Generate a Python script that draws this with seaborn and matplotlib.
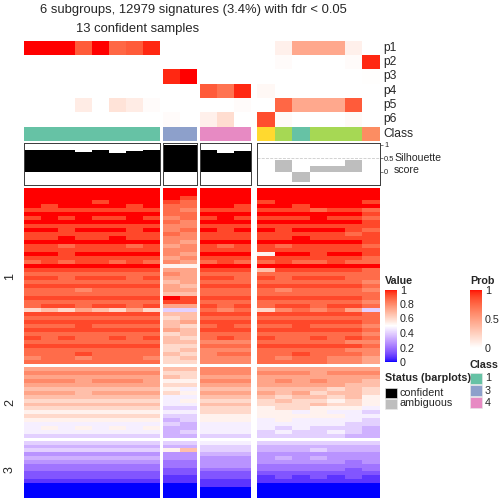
import numpy as np
import matplotlib
matplotlib.use('Agg')
import matplotlib.pyplot as plt
import seaborn as sns
from matplotlib.colors import ListedColormap, Normalize
from matplotlib.patches import Rectangle
from matplotlib.cm import ScalarMappable

sns.set_style('white')
plt.rcParams['font.family'] = ['Liberation Sans', 'DejaVu Sans']

TITLE_1 = "6 subgroups, 12979 signatures (3.4%) with fdr < 0.05"
TITLE_2 = "13 confident samples"

# column groups: class 1 (8), class 3 (2), class 4 (3), ambiguous (7)
grupos_col = [8, 2, 3, 7]
classes = [1, 1, 1, 1, 1, 1, 1, 1, 3, 3, 4, 4, 4, 6, 5, 1, 5, 5, 5, 2]
cores_classe = ['#66C2A5', '#FC8D62', '#8DA0CB', '#E78AC3', '#A6D854', '#FFD92F']

p1 = [1.0, 1.0, 1.0, 0.8, 1.0, 0.75, 0.8, 0.95, 0, 0, 0, 0, 0, 0, 0.08, 0.45, 0.45, 0.45, 0.08, 0]
p2 = [0, 0, 0, 0, 0, 0, 0, 0, 0, 0, 0, 0, 0, 0, 0.02, 0, 0, 0, 0.02, 0.95]
p3 = [0, 0, 0, 0, 0, 0, 0, 0, 0.95, 1.0, 0, 0, 0, 0, 0, 0, 0, 0, 0, 0.01]
p4 = [0, 0, 0, 0, 0, 0, 0, 0, 0, 0, 0.8, 0.7, 0.95, 0.04, 0, 0, 0, 0, 0, 0]
p5 = [0, 0, 0, 0.1, 0, 0.15, 0.1, 0.02, 0, 0, 0, 0, 0.02, 0, 0.75, 0.45, 0.45, 0.45, 0.8, 0]
p6 = [0, 0, 0, 0, 0, 0, 0, 0, 0.02, 0, 0.08, 0.18, 0, 0.85, 0.03, 0, 0, 0, 0.03, 0]
prob_labels = ['p1', 'p2', 'p3', 'p4', 'p5', 'p6']

silhueta = [0.81, 0.81, 0.81, 0.75, 0.81, 0.71, 0.77, 0.81, 0.99, 0.99, 0.81, 0.71, 0.77,
            0, 0.45, -0.38, 0.2, 0.2, 0.43, 0]

# heatmap body, one string per row band, hex digit d -> value d/15
linhas_1 = [
    "FFFFFFFF FF FFF FFFFFFF", "FFFFFFFF FF FFF FFFFFFF", "FFFFFFFF FE FFF FFFFFFF",
    "FFFFEFFF ED FFF EFFFFFE", "FEFFFFEF DD FFE FFEFFFF", "EEEEEEEE DC EEE EEEDEED",
    "FFFFFFFF DD FFF FFFFFFE", "EFEFEEFE CD EFE EEEFEED", "FFFFFFFF DC FFF FFFFFFE",
    "EEEEEEEE CC EEE EEEEEEE", "FFEFFFEF CD FEF FEFFFED", "EEEEEEEE DC EEE EEEEEDE",
    "EEFEEFEE CC EEE EEFEEEE", "FFFFFFFF CB FFF FFFFFFE", "EEDEEEDE BC EDE EDEEEED",
    "EEEEEEEE CC EEE EEEEEEE", "FFEFFFFF CB FFF 8FFEFFE", "EEEEEEEE BC EEE EEEEEED",
    "DEDEEDED CB DED DEDDEDD", "FFFFFFFF 88 FFF FFFFFFF", "EEEEEEEE BB EEE AEEEEED",
    "DDDDDDDD CB DDD DDDDDDD", "EEDEEEDE BB EED EDEEEDD", "DDDDDDDD AB DDD DDDDDDC",
    "EEEEEEEE BA EEE EEEEEED", "DDDCDDDD BB DDD DCDDDDC", "DDDDDDDD AA DDD DDDDDDD",
    "EEEEEEEE FE EEE EEEEEED", "DDDDDDDD EE DDD DDDDDDC", "DEEDEEDE BB EDE DEEDEED",
    "9A9BA9B9 66 DCD 9CDCDB6", "EEEEEEEE AA EEE EEEEEED", "DDDDDDDD 9A DDD DDDDDDD",
    "EEEEEEEE AB EEE EEEEEED", "DDDEDDDD A9 DED DDEDDDC", "EEEEEEEE BA EEE EEEEEED",
    "DDDDDDDD 9A DDD DDDDDDC", "EDEDDEDE A9 DED EDDEDED", "DDDDDDDD AA CCC DDDDDCC",
    "EEEEEEEE 99 DDD EEEEEED", "DDDDDDDD 9A CCC DDDDDCC", "DDDEDDDD A9 CDD DDEDDDC",
    "CDDCDDDC 9A CCC DCDDCCB", "DDDDDDDD 99 CCC DDDDCCB",
]
linhas_2 = [
    "BBBBBBBB AA CCC BBBBBBB", "CCCCCCCC 99 CCC CCCBCCC", "BBBBBBBB A9 BBB BBBBBBB",
    "CCCBCCCB 88 CCC BCBCBBA", "BBBBBBBB 99 BBB BBBBBAA", "AAAAAAAA 87 AAA AAAA9A9",
    "BBBABBBB 98 BBB BAB9AA9", "AAAAAAAA 77 AAA A9AA9A8", "99999999 78 999 9A99898",
    "AAAAAAAA 77 AAA 999A998", "99999999 66 999 8998887", "88888888 77 999 8878776",
    "99999999 66 888 8888877", "88888888 56 888 7877776", "77777777 65 777 7777766",
    "78787878 55 777 7676665", "77777777 56 777 6766765", "66666666 55 666 6666655",
]
linhas_3 = [
    "66666666 66 777 6666666", "55555555 55 666 5555555", "66666666 8A 666 5556555",
    "44444444 44 555 4444444", "55555555 44 444 4545444", "44444444 33 444 4444434",
    "33333333 33 444 3333333", "33333333 22 333 3333323", "22222222 22 222 2222222",
    "22222222 11 222 1212121", "11111111 11 111 1111111", "00000000 00 111 0000000",
    "00000000 00 000 0000000", "00000000 00 000 0000000", "00000000 00 000 0000000",
]


def para_matriz(linhas):
    return np.array([[int(c, 16) for c in s.replace(' ', '')] for s in linhas]) / 15.0


def lab_para_rgb(lab):
    L, a, b = lab[:, 0], lab[:, 1], lab[:, 2]
    fy = (L + 16) / 116
    fx = fy + a / 500
    fz = fy - b / 200
    finv = lambda t: np.where(t > 6 / 29, t ** 3, 3 * (6 / 29) ** 2 * (t - 4 / 29))
    xyz = np.stack([0.95047 * finv(fx), finv(fy), 1.08883 * finv(fz)], -1)
    M = np.array([[3.2406, -1.5372, -0.4986], [-0.9689, 1.8758, 0.0415], [0.0557, -0.2040, 1.0570]])
    rgb = xyz @ M.T
    rgb = np.clip(rgb, 0, None)
    rgb = np.where(rgb <= 0.0031308, 12.92 * rgb, 1.055 * rgb ** (1 / 2.4) - 0.055)
    return np.clip(rgb, 0, 1)


def cmap_lab(ancoras, n=256):
    ancoras = np.array(ancoras, dtype=float)
    t = np.linspace(0, len(ancoras) - 1, n)
    i = np.minimum(t.astype(int), len(ancoras) - 2)
    f = (t - i)[:, None]
    lab = ancoras[i] * (1 - f) + ancoras[i + 1] * f
    return ListedColormap(lab_para_rgb(lab))


LAB_AZUL = (32.30, 79.19, -107.86)
LAB_BRANCO = (100.0, 0.0, 0.0)
LAB_VERMELHO = (53.24, 80.09, 67.20)
cmap_valor = cmap_lab([LAB_AZUL, LAB_BRANCO, LAB_VERMELHO])
cmap_prob = cmap_lab([LAB_BRANCO, LAB_VERMELHO])
cmap_classe = ListedColormap(cores_classe)

W = 504.0
fig = plt.figure(figsize=(7, 7), dpi=72)


def eixo(x0, y0, x1, y1):
    return fig.add_axes([x0 / W, 1 - y1 / W, (x1 - x0) / W, (y1 - y0) / W])


col_x = [(24, 160), (163, 197), (200, 251), (257, 380)]
row_y = [(188, 364), (367.3, 437.7), (440.7, 498.3)]
mats = [para_matriz(linhas_1), para_matriz(linhas_2), para_matriz(linhas_3)]
limites = np.cumsum([0] + grupos_col)

prob = np.array([p1, p2, p3, p4, p5, p6])
classe_arr = np.array(classes)[None, :] - 1
sil = np.array(silhueta)

for g, (x0, x1) in enumerate(col_x):
    a, b = limites[g], limites[g + 1]
    # probability rows
    ax = eixo(x0, 41, x1, 126.5)
    sns.heatmap(prob[:, a:b], ax=ax, cmap=cmap_prob, vmin=0, vmax=1, cbar=False,
                xticklabels=False, yticklabels=False)
    # class row
    ax = eixo(x0, 126.7, x1, 141.3)
    sns.heatmap(classe_arr[:, a:b], ax=ax, cmap=cmap_classe, vmin=-0.5, vmax=5.5, cbar=False,
                xticklabels=False, yticklabels=False)
    # silhouette barplot
    ax = eixo(x0, 142.7, x1, 185)
    cor = '#BEBEBE' if g == 3 else 'black'
    ax.axhline(0.5, color='#C8C8C8', ls='--', lw=0.8, zorder=0)
    ax.bar(np.arange(b - a), sil[a:b], width=1.0, color=cor, edgecolor='none', zorder=2)
    ax.set_xlim(-0.5, b - a - 0.5)
    ax.set_ylim(-0.49, 1.08)
    ax.set_xticks([])
    for s in ax.spines.values():
        s.set_visible(True)
        s.set_color('#404040')
        s.set_linewidth(1.0)
    if g == 3:
        ax.yaxis.tick_right()
        ax.set_yticks([0, 0.5, 1])
        ax.set_yticklabels(['0', '0.5', '1'])
        ax.tick_params(axis='y', labelsize=7.5, length=3, width=0.6, pad=1, right=True)
    else:
        ax.set_yticks([])
    # heatmap body
    for r, (y0, y1) in enumerate(row_y):
        ax = eixo(x0, y0, x1, y1)
        sns.heatmap(mats[r][:, a:b], ax=ax, cmap=cmap_valor, vmin=0, vmax=1, cbar=False,
                    xticklabels=False, yticklabels=False)

# texts and legends on an overlay in pixel coords
ov = fig.add_axes([0, 0, 1, 1])
ov.set_xlim(0, W)
ov.set_ylim(W, 0)
ov.axis('off')

ov.text(193, 10, TITLE_1, ha='center', va='center', fontsize=13)
ov.text(137.5, 29, TITLE_2, ha='center', va='center', fontsize=13)

for i, lab in enumerate(prob_labels):
    ov.text(383, 48 + i * 14.25, lab, ha='left', va='center', fontsize=12)
ov.text(383, 134, 'Class', ha='left', va='center', fontsize=12)
ov.text(394, 158, 'Silhouette', ha='left', va='center', fontsize=10.5)
ov.text(394, 170, 'score', ha='left', va='center', fontsize=10.5)

for nome, (y0, y1) in zip(['1', '2', '3'], row_y):
    ov.text(10, (y0 + y1) / 2, nome, ha='center', va='center', rotation=90, fontsize=12.5)

# Value legend
ov.text(385, 281, 'Value', ha='left', va='center', fontsize=10.8, fontweight='bold')
cax = eixo(385, 289.5, 397, 362)
cb = fig.colorbar(ScalarMappable(norm=Normalize(0, 1), cmap=cmap_valor), cax=cax)
cb.set_ticks([0, 0.2, 0.4, 0.6, 0.8, 1])
cb.set_ticklabels(['0', '0.2', '0.4', '0.6', '0.8', '1'])
cb.outline.set_visible(False)
cax.tick_params(direction='in', length=2.5, width=0.6, color='white', labelsize=10.8, pad=3)

# Prob legend
ov.text(470, 281, 'Prob', ha='left', va='center', fontsize=10.8, fontweight='bold')
cax = eixo(470, 289.5, 482, 348)
cb = fig.colorbar(ScalarMappable(norm=Normalize(0, 1), cmap=cmap_prob), cax=cax)
cb.set_ticks([0, 0.5, 1])
cb.set_ticklabels(['0', '0.5', '1'])
cb.outline.set_visible(False)
cax.tick_params(direction='in', length=2.5, width=0.6, color='white', labelsize=10.8, pad=3)

# Class legend
ov.text(470, 365, 'Class', ha='left', va='center', fontsize=10.8, fontweight='bold')
for i, (rot, cor) in enumerate(zip(['1', '3', '4'], [cores_classe[0], cores_classe[2], cores_classe[3]])):
    yc = 378.3 + i * 12.2
    ov.add_patch(Rectangle((470, yc - 5.5), 12, 11, facecolor=cor, edgecolor='#E8E8E8', lw=0.6))
    ov.text(485, yc, rot, ha='left', va='center', fontsize=10.8)

# Status legend
ov.text(385, 378, 'Status (barplots)', ha='left', va='center', fontsize=10.8, fontweight='bold')
for i, (rot, cor) in enumerate(zip(['confident', 'ambiguous'], ['black', '#BEBEBE'])):
    yc = 392.5 + i * 11
    ov.add_patch(Rectangle((385, yc - 5), 12, 10, facecolor=cor, edgecolor='#E8E8E8', lw=0.6))
    ov.text(400, yc, rot, ha='left', va='center', fontsize=10.8)

fig.savefig('out.png', dpi=72)
